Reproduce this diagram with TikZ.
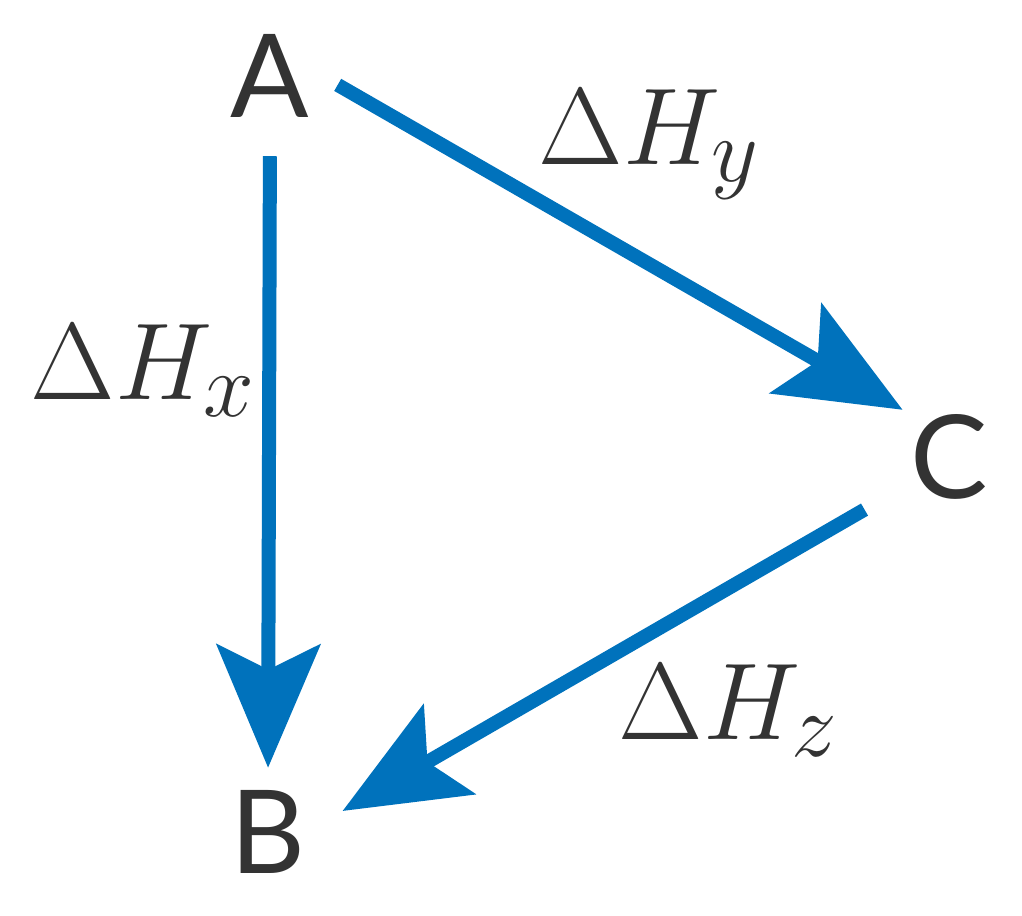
\documentclass[tikz,border=0pt]{standalone}
\usepackage{graphicx}
\usepackage{fontspec}
\newfontfamily\letterfont{Lato}
\usetikzlibrary{arrows.meta}
\definecolor{hessblue}{HTML}{0072BC}
\definecolor{lettergrey}{HTML}{333333}
\newcommand{\dHlabel}[1]{{\fontsize{24.88}{25}\selectfont\scalebox{1.25}{$\Delta H_{#1}$}}}
\begin{document}
\begin{tikzpicture}[
  state/.style={inner sep=0pt, text=lettergrey, font=\letterfont\fontsize{33}{33}\selectfont},
  dlabel/.style={inner sep=0pt, anchor=base west, text=lettergrey},
  path/.style={draw=hessblue, line width=0.14cm, -{Stealth[length=1.23cm, width=1.03cm, inset=0.25cm]}}
]
\useasboundingbox (0,0) rectangle (10.22,9.16);

\node[state] (A) at (2.70,8.40) {A};
\node[state] (B) at (2.68,0.84) {B};
\node[state] (C) at (9.49,4.59) {C};

\draw[path, shorten <=0.38cm, shorten >=0.22cm] (A.south) -- (B.north);
\draw[path, shorten <=0.32cm, shorten >=0.08cm] (A.10) -- (C.north west);
\draw[path, shorten <=0.52cm, shorten >=0.42cm] (C.214) -- (B.east);

\node[dlabel] (hx) at (0.30,5.16) {\dHlabel{x}};
\node[dlabel] (hy) at (5.38,7.51) {\dHlabel{y}};
\node[dlabel] (hz) at (6.18,1.76) {\dHlabel{z}};
\end{tikzpicture}
\end{document}
